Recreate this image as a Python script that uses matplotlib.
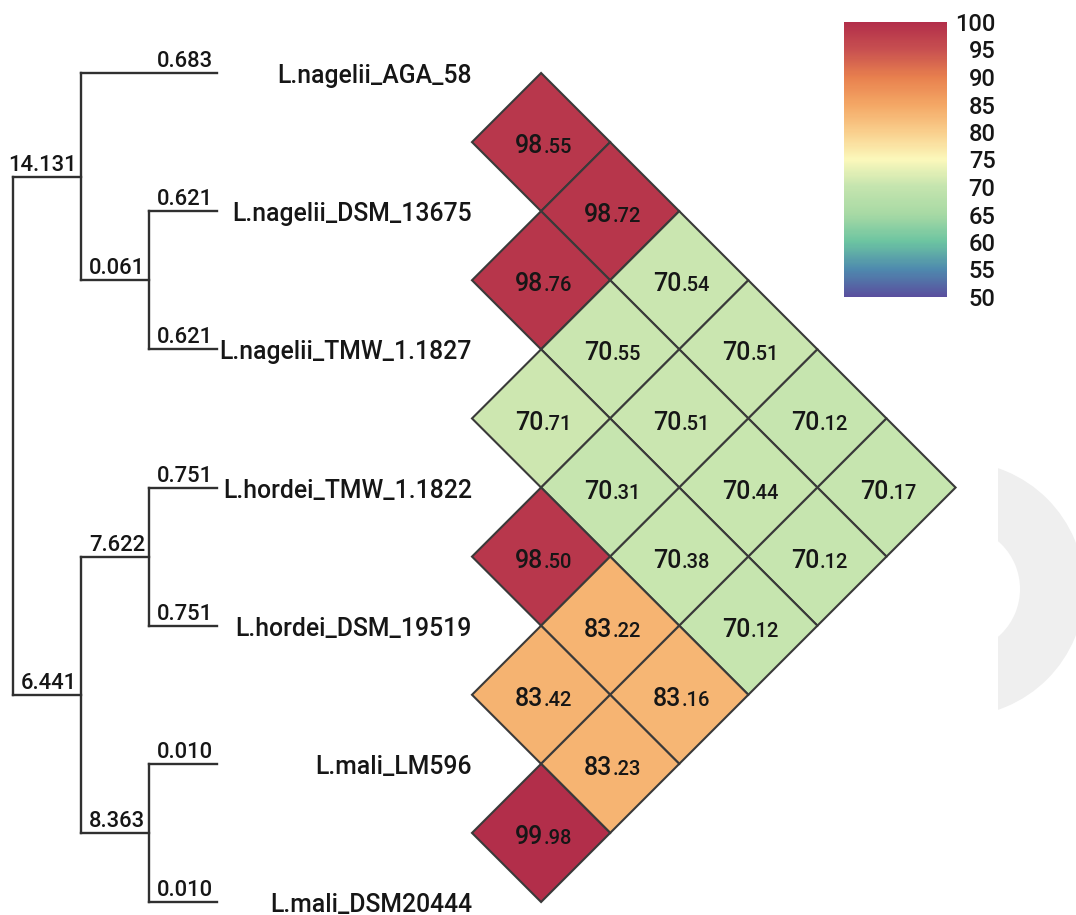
import numpy as np
import matplotlib.pyplot as plt
from matplotlib.patches import Polygon, Wedge, Rectangle
from matplotlib.colors import LinearSegmentedColormap, Normalize
from matplotlib.cm import ScalarMappable

plt.rcParams['font.family'] = ['Roboto', 'DejaVu Sans']
plt.rcParams['font.weight'] = 'medium'

# leaves, top to bottom
leaves = ["L.nagelii_AGA_58", "L.nagelii_DSM_13675", "L.nagelii_TMW_1.1827",
          "L.hordei_TMW_1.1822", "L.hordei_DSM_19519", "L.mali_LM596",
          "L.mali_DSM20444"]
tip_len = [0.683, 0.621, 0.621, 0.751, 0.751, 0.010, 0.010]

# internal nodes: id -> children, and branch length above each internal node
children = {7: (1, 2), 8: (0, 7), 9: (3, 4), 10: (5, 6), 11: (9, 10), 12: (8, 11)}
node_len = {7: 0.061, 8: 14.131, 9: 7.622, 10: 8.363, 11: 6.441}
root = 12

# pairwise identity (upper triangle)
pairs = [(0, 1), (0, 2), (1, 2), (0, 3), (1, 3), (0, 4), (2, 3), (1, 4), (0, 5),
         (2, 4), (1, 5), (0, 6), (3, 4), (2, 5), (1, 6), (3, 5), (2, 6),
         (4, 5), (3, 6), (4, 6), (5, 6)]
ident = [98.55, 98.72, 98.76, 70.54, 70.55, 70.51, 70.71, 70.51, 70.12,
         70.31, 70.44, 70.17, 98.50, 70.38, 70.12, 83.22, 70.12,
         83.42, 83.16, 83.23, 99.98]

cbar_ticks = [50, 55, 60, 65, 70, 75, 80, 85, 90, 95, 100]
cbar_colors = ["#5a4f9e", "#4e8aae", "#6cc4a1", "#a7d9a4", "#c4e4ae", "#fbf8bb",
               "#f9cf8d", "#f4a765", "#e8804e", "#c85050", "#b22e4a"]

cmap = LinearSegmentedColormap.from_list(
    "ani", list(zip(np.linspace(0, 1, len(cbar_colors)), cbar_colors)))
norm = Normalize(50, 100)

W, H = 1076, 915
u = 138.17          # pixels per leaf spacing
x0_px, y0_px = 472, 73
fig = plt.figure(figsize=(W / 100, H / 100), dpi=100)
ax = fig.add_axes([0, 0, 1, 1])
ax.set_xlim(-x0_px / u, (W - x0_px) / u)
ax.set_ylim((H - y0_px) / u, -y0_px / u)
ax.axis('off')

ink = "#161616"
line_c = "#303030"

# light grey crescent at the right edge (decoration in the source)
ring = Wedge(((957 - x0_px) / u, (589 - y0_px) / u), 127.6 / u, 0, 360,
             width=(127.6 - 63) / u, facecolor="#efefef", edgecolor="none", zorder=0)
ax.add_patch(ring)
clip = Rectangle(((998 - x0_px) / u, -1), 10, 10, transform=ax.transData)
ring.set_clip_path(clip)

# ---- dendrogram ----
dx0 = (13 - x0_px) / u
step = 0.493
tip_x = dx0 + 3 * step

depth = {root: 0}
order = [root]
while order:
    n = order.pop()
    for c in children.get(n, ()):
        depth[c] = depth[n] + 1
        order.append(c)

ypos = {}
def node_y(n):
    if n < len(leaves):
        ypos[n] = float(n)
    else:
        ys = [node_y(c) for c in children[n]]
        ypos[n] = (ys[0] + ys[-1]) / 2
    return ypos[n]
node_y(root)

def node_x(n):
    return tip_x if n < len(leaves) else dx0 + depth[n] * step

def blen(n):
    return tip_len[n] if n < len(leaves) else node_len[n]

for n, ch in children.items():
    xn = node_x(n)
    ax.plot([xn, xn], [ypos[ch[0]], ypos[ch[-1]]], color=line_c, lw=1.7,
            solid_capstyle='projecting')
    for c in ch:
        xc = node_x(c)
        ax.plot([xn, xc], [ypos[c], ypos[c]], color=line_c, lw=1.7,
                solid_capstyle='projecting')
        ax.annotate(f"{blen(c):.3f}", (xc, ypos[c]), xytext=(-3, 4.3),
                    textcoords='offset points', ha='right', va='baseline',
                    fontsize=15.8, color=ink)

for k, name in enumerate(leaves):
    ax.annotate(name, (0, k), xytext=(0, -7.2), textcoords='offset points',
                ha='right', va='baseline', fontsize=17.8, color=ink)

# ---- diamond heatmap ----
for (i, j), v in zip(pairs, ident):
    cx, cy = (j - i) / 2, (i + j) / 2
    verts = [(cx - 0.5, cy), (cx, cy - 0.5), (cx + 0.5, cy), (cx, cy + 0.5)]
    ax.add_patch(Polygon(verts, closed=True, facecolor=cmap(norm(v)),
                         edgecolor="#3a3a3a", lw=1.5, zorder=2))
    whole, dec = f"{v:.2f}".split(".")
    ax.annotate(whole, (cx, cy), xytext=(1.5, -8), textcoords='offset points',
                ha='right', va='baseline', fontsize=18, color=ink, zorder=3)
    ax.annotate("." + dec, (cx, cy), xytext=(1.5, -8), textcoords='offset points',
                ha='left', va='baseline', fontsize=14.5, color=ink, zorder=3)

# ---- colorbar ----
cax = fig.add_axes([844 / W, (H - 297) / H, 103 / W, 275 / H])
cb = fig.colorbar(ScalarMappable(norm=norm, cmap=cmap), cax=cax, ticks=cbar_ticks)
cb.outline.set_visible(False)
cax.tick_params(length=0, pad=35, labelsize=17, labelcolor=ink)
for t in cax.get_yticklabels():
    t.set_ha('right')

fig.savefig("out.png", dpi=100)
